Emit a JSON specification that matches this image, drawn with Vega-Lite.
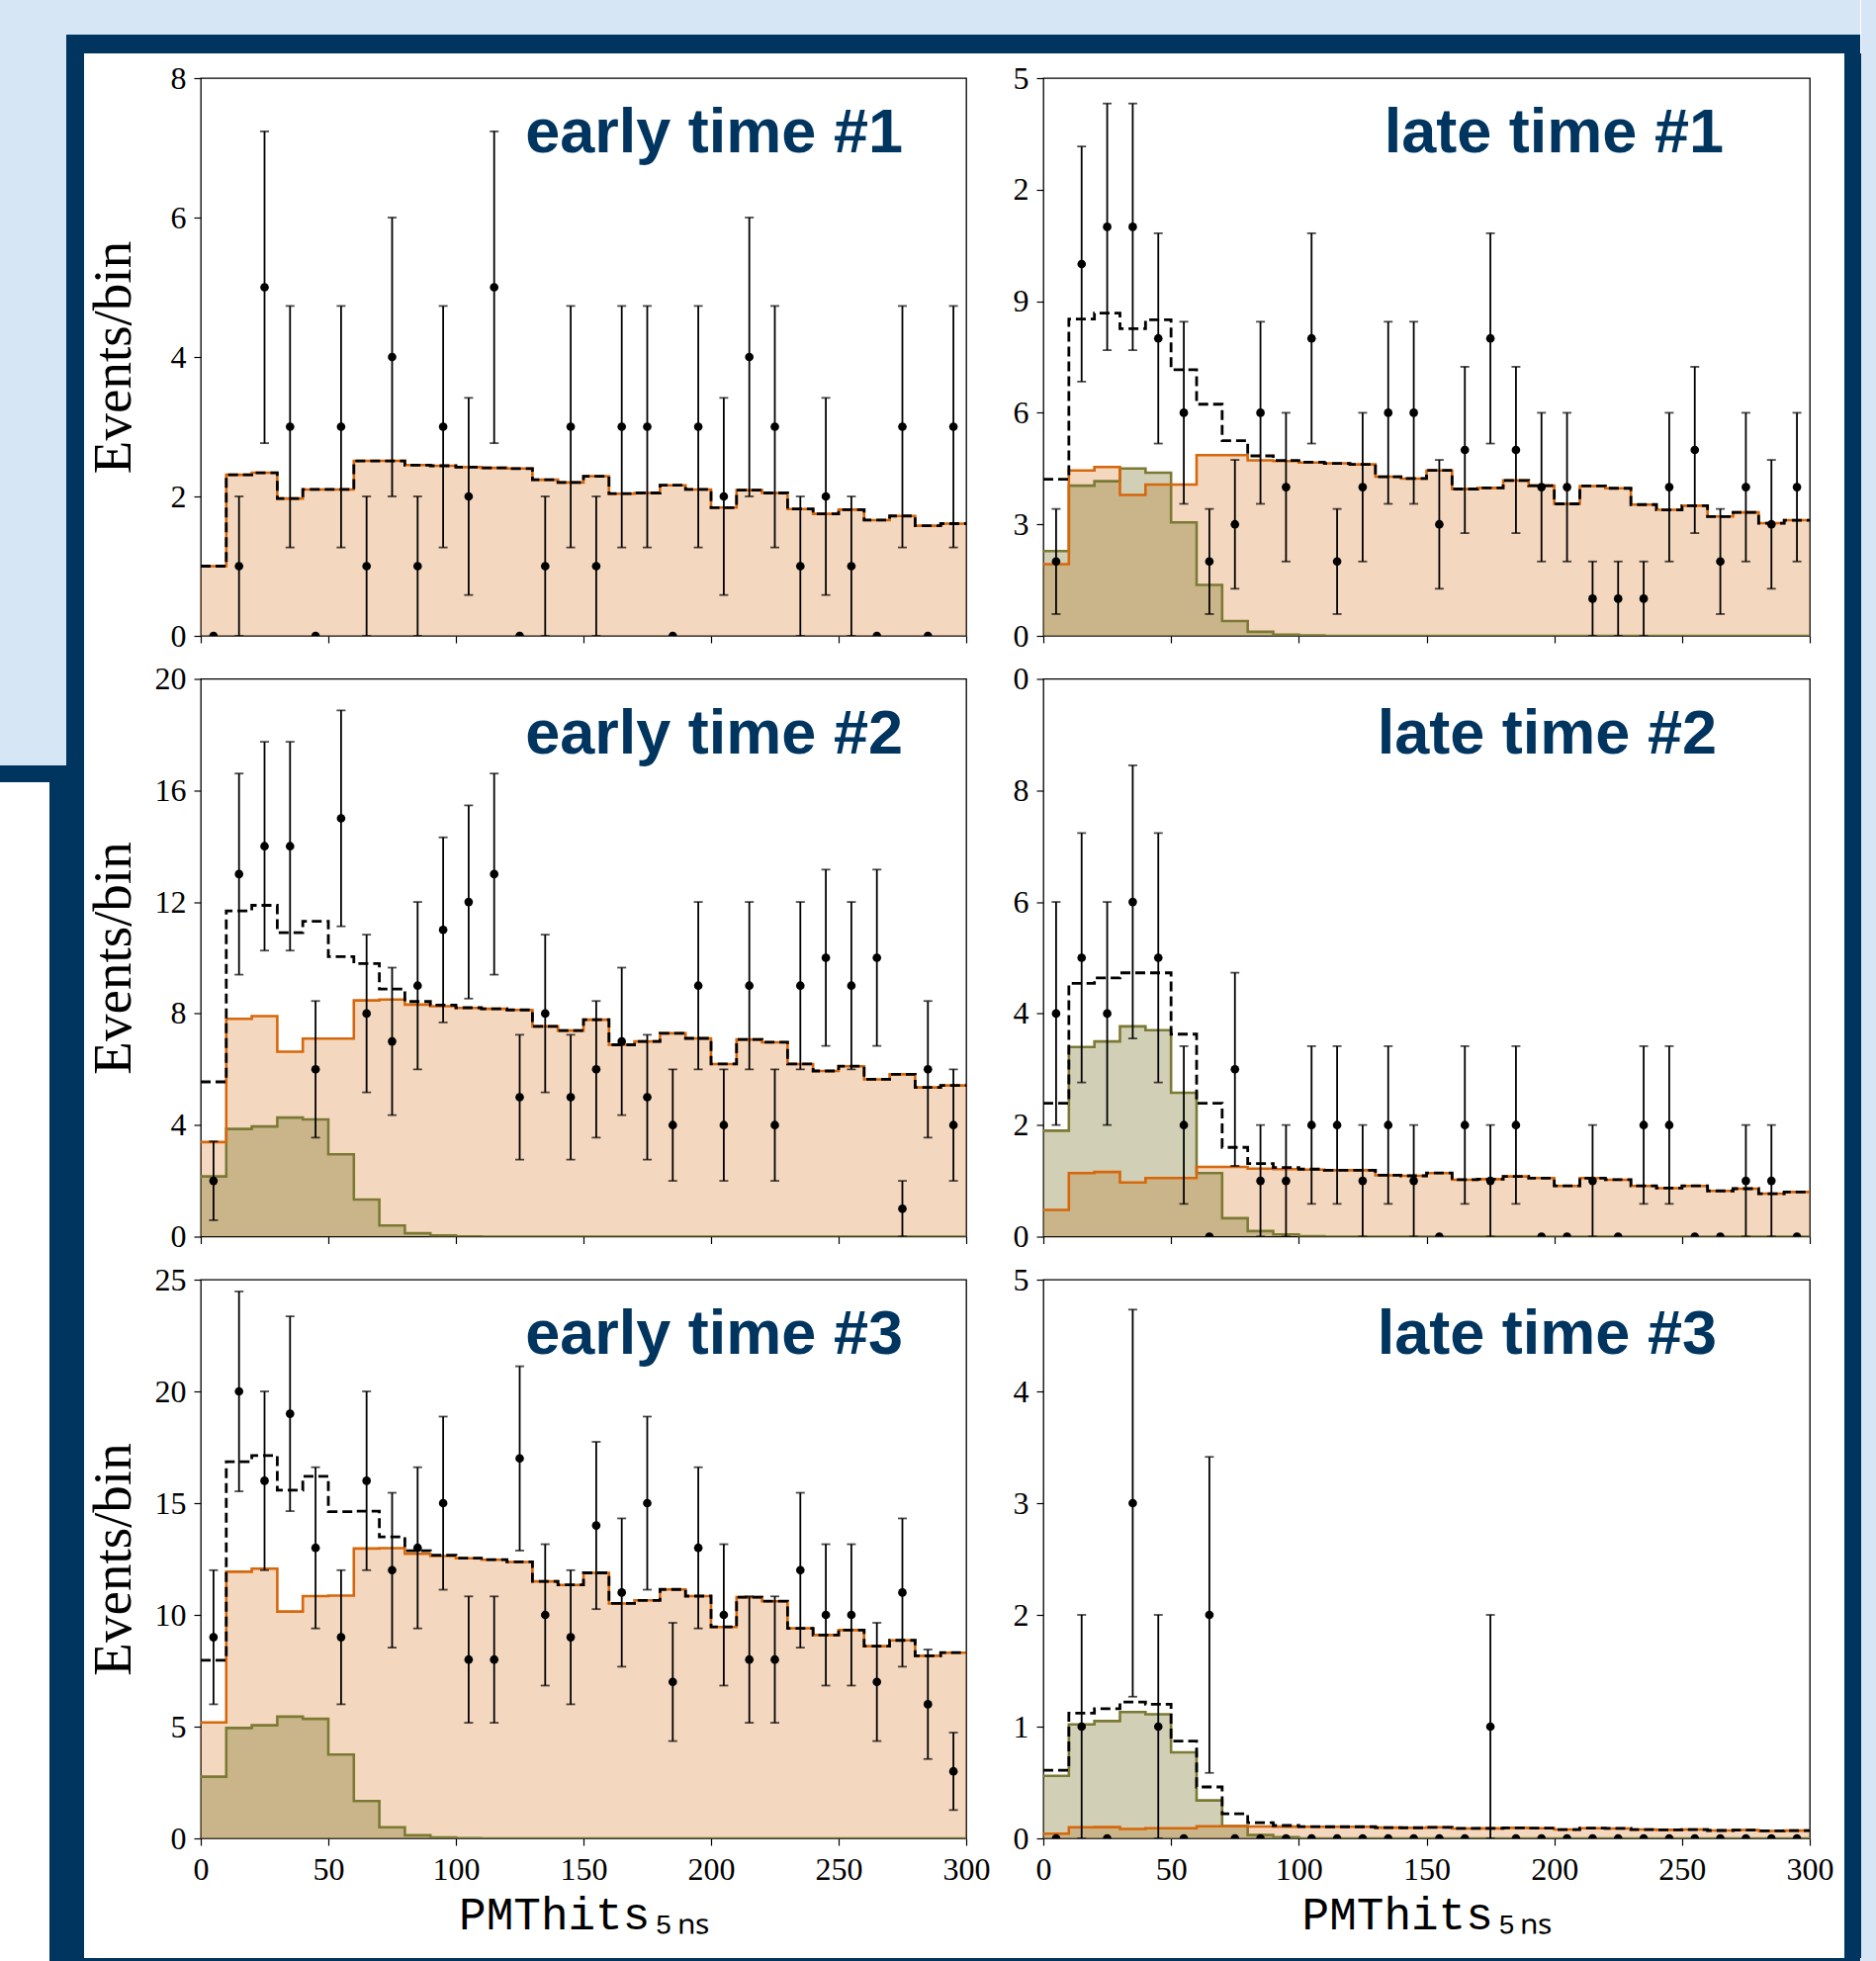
{
"$schema":"https://vega.github.io/schema/vega-lite/v6.json",
"padding":0,
"background":"white",
"spacing":0,
"config":{
 "view":{"stroke":null},
 "axis":{"domain":false,"grid":false,"tickColor":"black","tickWidth":1.2,"tickSize":7,"labelColor":"black","labelFont":"Liberation Serif","labelFontSize":32,"labelPadding":8,"labelFlush":false,"labelOverlap":false,"labelBound":false,"titleColor":"black","titleFont":"Liberation Serif","titleFontSize":55,"titleFontWeight":"normal"},
 "title":{"font":"Liberation Sans","fontSize":63,"fontWeight":"bold","color":"#003560","anchor":"end","frame":"group","baseline":"alphabetic"}
},
"datasets":{
"hist":[
{"p":"e1","x":0,"b":1.0,"t":1.0},{"p":"e1","x":10,"b":2.31,"t":2.31},{"p":"e1","x":20,"b":2.34,"t":2.34},{"p":"e1","x":30,"b":1.97,"t":1.97},{"p":"e1","x":40,"b":2.1,"t":2.1},{"p":"e1","x":50,"b":2.1,"t":2.1},{"p":"e1","x":60,"b":2.51,"t":2.51},{"p":"e1","x":70,"b":2.51,"t":2.51},{"p":"e1","x":80,"b":2.45,"t":2.45},{"p":"e1","x":90,"b":2.44,"t":2.44},{"p":"e1","x":100,"b":2.42,"t":2.42},{"p":"e1","x":110,"b":2.41,"t":2.41},{"p":"e1","x":120,"b":2.4,"t":2.4},{"p":"e1","x":130,"b":2.24,"t":2.24},{"p":"e1","x":140,"b":2.2,"t":2.2},{"p":"e1","x":150,"b":2.29,"t":2.29},{"p":"e1","x":160,"b":2.04,"t":2.04},{"p":"e1","x":170,"b":2.05,"t":2.05},{"p":"e1","x":180,"b":2.16,"t":2.16},{"p":"e1","x":190,"b":2.1,"t":2.1},{"p":"e1","x":200,"b":1.84,"t":1.84},{"p":"e1","x":210,"b":2.09,"t":2.09},{"p":"e1","x":220,"b":2.05,"t":2.05},{"p":"e1","x":230,"b":1.82,"t":1.82},{"p":"e1","x":240,"b":1.75,"t":1.75},{"p":"e1","x":250,"b":1.81,"t":1.81},{"p":"e1","x":260,"b":1.66,"t":1.66},{"p":"e1","x":270,"b":1.72,"t":1.72},{"p":"e1","x":280,"b":1.58,"t":1.58},{"p":"e1","x":290,"b":1.61,"t":1.61},{"p":"e1","x":300,"b":1.61,"t":1.61},
{"p":"e2","x":0,"b":3.39,"s":2.16,"t":5.55},{"p":"e2","x":10,"b":7.81,"s":3.86,"t":11.68},{"p":"e2","x":20,"b":7.91,"s":3.95,"t":11.88},{"p":"e2","x":30,"b":6.63,"s":4.27,"t":10.9},{"p":"e2","x":40,"b":7.1,"s":4.2,"t":11.31},{"p":"e2","x":50,"b":7.1,"s":2.95,"t":10.04},{"p":"e2","x":60,"b":8.47,"s":1.33,"t":9.79},{"p":"e2","x":70,"b":8.5,"s":0.4,"t":8.88},{"p":"e2","x":80,"b":8.32,"s":0.12,"t":8.43},{"p":"e2","x":90,"b":8.26,"s":0.04,"t":8.3},{"p":"e2","x":100,"b":8.2,"s":0.01,"t":8.21},{"p":"e2","x":110,"b":8.17,"s":0,"t":8.17},{"p":"e2","x":120,"b":8.13,"s":0,"t":8.13},{"p":"e2","x":130,"b":7.54,"s":0,"t":7.54},{"p":"e2","x":140,"b":7.39,"s":0,"t":7.39},{"p":"e2","x":150,"b":7.78,"s":0,"t":7.78},{"p":"e2","x":160,"b":6.88,"s":0,"t":6.88},{"p":"e2","x":170,"b":7.0,"s":0,"t":7.0},{"p":"e2","x":180,"b":7.29,"s":0,"t":7.29},{"p":"e2","x":190,"b":7.11,"s":0,"t":7.11},{"p":"e2","x":200,"b":6.19,"s":0,"t":6.19},{"p":"e2","x":210,"b":7.07,"s":0,"t":7.07},{"p":"e2","x":220,"b":6.97,"s":0,"t":6.97},{"p":"e2","x":230,"b":6.19,"s":0,"t":6.19},{"p":"e2","x":240,"b":5.94,"s":0,"t":5.94},{"p":"e2","x":250,"b":6.11,"s":0,"t":6.11},{"p":"e2","x":260,"b":5.64,"s":0,"t":5.64},{"p":"e2","x":270,"b":5.82,"s":0,"t":5.82},{"p":"e2","x":280,"b":5.35,"s":0,"t":5.35},{"p":"e2","x":290,"b":5.42,"s":0,"t":5.42},{"p":"e2","x":300,"b":5.42,"s":0,"t":5.42},
{"p":"e3","x":0,"b":5.19,"s":2.76,"t":7.97},{"p":"e3","x":10,"b":11.93,"s":4.94,"t":16.85},{"p":"e3","x":20,"b":12.07,"s":5.06,"t":17.13},{"p":"e3","x":30,"b":10.15,"s":5.45,"t":15.58},{"p":"e3","x":40,"b":10.84,"s":5.35,"t":16.2},{"p":"e3","x":50,"b":10.86,"s":3.75,"t":14.62},{"p":"e3","x":60,"b":12.97,"s":1.67,"t":14.64},{"p":"e3","x":70,"b":12.99,"s":0.5,"t":13.49},{"p":"e3","x":80,"b":12.73,"s":0.14,"t":12.87},{"p":"e3","x":90,"b":12.63,"s":0.04,"t":12.67},{"p":"e3","x":100,"b":12.53,"s":0.01,"t":12.54},{"p":"e3","x":110,"b":12.47,"s":0,"t":12.47},{"p":"e3","x":120,"b":12.37,"s":0,"t":12.37},{"p":"e3","x":130,"b":11.5,"s":0,"t":11.5},{"p":"e3","x":140,"b":11.34,"s":0,"t":11.34},{"p":"e3","x":150,"b":11.88,"s":0,"t":11.88},{"p":"e3","x":160,"b":10.51,"s":0,"t":10.51},{"p":"e3","x":170,"b":10.65,"s":0,"t":10.65},{"p":"e3","x":180,"b":11.14,"s":0,"t":11.14},{"p":"e3","x":190,"b":10.84,"s":0,"t":10.84},{"p":"e3","x":200,"b":9.46,"s":0,"t":9.46},{"p":"e3","x":210,"b":10.79,"s":0,"t":10.79},{"p":"e3","x":220,"b":10.61,"s":0,"t":10.61},{"p":"e3","x":230,"b":9.4,"s":0,"t":9.4},{"p":"e3","x":240,"b":9.1,"s":0,"t":9.1},{"p":"e3","x":250,"b":9.32,"s":0,"t":9.32},{"p":"e3","x":260,"b":8.6,"s":0,"t":8.6},{"p":"e3","x":270,"b":8.86,"s":0,"t":8.86},{"p":"e3","x":280,"b":8.17,"s":0,"t":8.17},{"p":"e3","x":290,"b":8.31,"s":0,"t":8.31},{"p":"e3","x":300,"b":8.31,"s":0,"t":8.31},
{"p":"l1","x":0,"b":1.93,"s":2.28,"t":4.21},{"p":"l1","x":10,"b":4.45,"s":4.04,"t":8.52},{"p":"l1","x":20,"b":4.54,"s":4.16,"t":8.68},{"p":"l1","x":30,"b":3.79,"s":4.5,"t":8.26},{"p":"l1","x":40,"b":4.07,"s":4.39,"t":8.5},{"p":"l1","x":50,"b":4.07,"s":3.05,"t":7.16},{"p":"l1","x":60,"b":4.86,"s":1.37,"t":6.23},{"p":"l1","x":70,"b":4.86,"s":0.4,"t":5.25},{"p":"l1","x":80,"b":4.72,"s":0.11,"t":4.84},{"p":"l1","x":90,"b":4.7,"s":0.03,"t":4.72},{"p":"l1","x":100,"b":4.66,"s":0.01,"t":4.67},{"p":"l1","x":110,"b":4.64,"s":0,"t":4.64},{"p":"l1","x":120,"b":4.61,"s":0,"t":4.61},{"p":"l1","x":130,"b":4.28,"s":0,"t":4.28},{"p":"l1","x":140,"b":4.23,"s":0,"t":4.23},{"p":"l1","x":150,"b":4.45,"s":0,"t":4.45},{"p":"l1","x":160,"b":3.95,"s":0,"t":3.95},{"p":"l1","x":170,"b":3.98,"s":0,"t":3.98},{"p":"l1","x":180,"b":4.18,"s":0,"t":4.18},{"p":"l1","x":190,"b":4.04,"s":0,"t":4.04},{"p":"l1","x":200,"b":3.55,"s":0,"t":3.55},{"p":"l1","x":210,"b":4.03,"s":0,"t":4.03},{"p":"l1","x":220,"b":3.97,"s":0,"t":3.97},{"p":"l1","x":230,"b":3.53,"s":0,"t":3.53},{"p":"l1","x":240,"b":3.39,"s":0,"t":3.39},{"p":"l1","x":250,"b":3.5,"s":0,"t":3.5},{"p":"l1","x":260,"b":3.21,"s":0,"t":3.21},{"p":"l1","x":270,"b":3.32,"s":0,"t":3.32},{"p":"l1","x":280,"b":3.03,"s":0,"t":3.03},{"p":"l1","x":290,"b":3.11,"s":0,"t":3.11},{"p":"l1","x":300,"b":3.11,"s":0,"t":3.11},
{"p":"l2","x":0,"b":0.48,"s":1.9,"t":2.39},{"p":"l2","x":10,"b":1.14,"s":3.4,"t":4.54},{"p":"l2","x":20,"b":1.16,"s":3.5,"t":4.64},{"p":"l2","x":30,"b":0.97,"s":3.77,"t":4.73},{"p":"l2","x":40,"b":1.05,"s":3.7,"t":4.73},{"p":"l2","x":50,"b":1.05,"s":2.58,"t":3.63},{"p":"l2","x":60,"b":1.25,"s":1.14,"t":2.39},{"p":"l2","x":70,"b":1.25,"s":0.33,"t":1.6},{"p":"l2","x":80,"b":1.22,"s":0.1,"t":1.31},{"p":"l2","x":90,"b":1.21,"s":0.04,"t":1.24},{"p":"l2","x":100,"b":1.2,"s":0.01,"t":1.21},{"p":"l2","x":110,"b":1.19,"s":0,"t":1.19},{"p":"l2","x":120,"b":1.19,"s":0,"t":1.19},{"p":"l2","x":130,"b":1.1,"s":0,"t":1.1},{"p":"l2","x":140,"b":1.09,"s":0,"t":1.09},{"p":"l2","x":150,"b":1.14,"s":0,"t":1.14},{"p":"l2","x":160,"b":1.02,"s":0,"t":1.02},{"p":"l2","x":170,"b":1.03,"s":0,"t":1.03},{"p":"l2","x":180,"b":1.08,"s":0,"t":1.08},{"p":"l2","x":190,"b":1.05,"s":0,"t":1.05},{"p":"l2","x":200,"b":0.91,"s":0,"t":0.91},{"p":"l2","x":210,"b":1.05,"s":0,"t":1.05},{"p":"l2","x":220,"b":1.02,"s":0,"t":1.02},{"p":"l2","x":230,"b":0.91,"s":0,"t":0.91},{"p":"l2","x":240,"b":0.87,"s":0,"t":0.87},{"p":"l2","x":250,"b":0.91,"s":0,"t":0.91},{"p":"l2","x":260,"b":0.82,"s":0,"t":0.82},{"p":"l2","x":270,"b":0.86,"s":0,"t":0.86},{"p":"l2","x":280,"b":0.77,"s":0,"t":0.77},{"p":"l2","x":290,"b":0.8,"s":0,"t":0.8},{"p":"l2","x":300,"b":0.8,"s":0,"t":0.8},
{"p":"l3","x":0,"b":0.042,"s":0.56,"t":0.61},{"p":"l3","x":10,"b":0.099,"s":1.02,"t":1.12},{"p":"l3","x":20,"b":0.101,"s":1.05,"t":1.16},{"p":"l3","x":30,"b":0.084,"s":1.13,"t":1.22},{"p":"l3","x":40,"b":0.091,"s":1.11,"t":1.2},{"p":"l3","x":50,"b":0.091,"s":0.77,"t":0.87},{"p":"l3","x":60,"b":0.109,"s":0.34,"t":0.46},{"p":"l3","x":70,"b":0.109,"s":0.11,"t":0.22},{"p":"l3","x":80,"b":0.106,"s":0.03,"t":0.14},{"p":"l3","x":90,"b":0.105,"s":0.01,"t":0.115},{"p":"l3","x":100,"b":0.104,"s":0,"t":0.105},{"p":"l3","x":110,"b":0.104,"s":0,"t":0.104},{"p":"l3","x":120,"b":0.104,"s":0,"t":0.104},{"p":"l3","x":130,"b":0.096,"s":0,"t":0.096},{"p":"l3","x":140,"b":0.095,"s":0,"t":0.095},{"p":"l3","x":150,"b":0.099,"s":0,"t":0.099},{"p":"l3","x":160,"b":0.089,"s":0,"t":0.089},{"p":"l3","x":170,"b":0.09,"s":0,"t":0.09},{"p":"l3","x":180,"b":0.094,"s":0,"t":0.094},{"p":"l3","x":190,"b":0.091,"s":0,"t":0.091},{"p":"l3","x":200,"b":0.079,"s":0,"t":0.079},{"p":"l3","x":210,"b":0.091,"s":0,"t":0.091},{"p":"l3","x":220,"b":0.089,"s":0,"t":0.089},{"p":"l3","x":230,"b":0.079,"s":0,"t":0.079},{"p":"l3","x":240,"b":0.076,"s":0,"t":0.076},{"p":"l3","x":250,"b":0.079,"s":0,"t":0.079},{"p":"l3","x":260,"b":0.071,"s":0,"t":0.071},{"p":"l3","x":270,"b":0.075,"s":0,"t":0.075},{"p":"l3","x":280,"b":0.067,"s":0,"t":0.067},{"p":"l3","x":290,"b":0.07,"s":0,"t":0.07},{"p":"l3","x":300,"b":0.07,"s":0,"t":0.07}
],
"obs":[
{"p":"e1","x":5,"n":0,"lo":0,"hi":0},{"p":"e1","x":15,"n":1,"lo":0,"hi":2},{"p":"e1","x":25,"n":5,"lo":2.764,"hi":7.236},{"p":"e1","x":35,"n":3,"lo":1.268,"hi":4.732},{"p":"e1","x":45,"n":0,"lo":0,"hi":0},{"p":"e1","x":55,"n":3,"lo":1.268,"hi":4.732},{"p":"e1","x":65,"n":1,"lo":0,"hi":2},{"p":"e1","x":75,"n":4,"lo":2,"hi":6},{"p":"e1","x":85,"n":1,"lo":0,"hi":2},{"p":"e1","x":95,"n":3,"lo":1.268,"hi":4.732},{"p":"e1","x":105,"n":2,"lo":0.586,"hi":3.414},{"p":"e1","x":115,"n":5,"lo":2.764,"hi":7.236},{"p":"e1","x":125,"n":0,"lo":0,"hi":0},{"p":"e1","x":135,"n":1,"lo":0,"hi":2},{"p":"e1","x":145,"n":3,"lo":1.268,"hi":4.732},{"p":"e1","x":155,"n":1,"lo":0,"hi":2},{"p":"e1","x":165,"n":3,"lo":1.268,"hi":4.732},{"p":"e1","x":175,"n":3,"lo":1.268,"hi":4.732},{"p":"e1","x":185,"n":0,"lo":0,"hi":0},{"p":"e1","x":195,"n":3,"lo":1.268,"hi":4.732},{"p":"e1","x":205,"n":2,"lo":0.586,"hi":3.414},{"p":"e1","x":215,"n":4,"lo":2,"hi":6},{"p":"e1","x":225,"n":3,"lo":1.268,"hi":4.732},{"p":"e1","x":235,"n":1,"lo":0,"hi":2},{"p":"e1","x":245,"n":2,"lo":0.586,"hi":3.414},{"p":"e1","x":255,"n":1,"lo":0,"hi":2},{"p":"e1","x":265,"n":0,"lo":0,"hi":0},{"p":"e1","x":275,"n":3,"lo":1.268,"hi":4.732},{"p":"e1","x":285,"n":0,"lo":0,"hi":0},{"p":"e1","x":295,"n":3,"lo":1.268,"hi":4.732},
{"p":"e2","x":5,"n":2,"lo":0.586,"hi":3.414},{"p":"e2","x":15,"n":13,"lo":9.394,"hi":16.606},{"p":"e2","x":25,"n":14,"lo":10.258,"hi":17.742},{"p":"e2","x":35,"n":14,"lo":10.258,"hi":17.742},{"p":"e2","x":45,"n":6,"lo":3.551,"hi":8.449},{"p":"e2","x":55,"n":15,"lo":11.127,"hi":18.873},{"p":"e2","x":65,"n":8,"lo":5.172,"hi":10.828},{"p":"e2","x":75,"n":7,"lo":4.354,"hi":9.646},{"p":"e2","x":85,"n":9,"lo":6,"hi":12},{"p":"e2","x":95,"n":11,"lo":7.683,"hi":14.317},{"p":"e2","x":105,"n":12,"lo":8.536,"hi":15.464},{"p":"e2","x":115,"n":13,"lo":9.394,"hi":16.606},{"p":"e2","x":125,"n":5,"lo":2.764,"hi":7.236},{"p":"e2","x":135,"n":8,"lo":5.172,"hi":10.828},{"p":"e2","x":145,"n":5,"lo":2.764,"hi":7.236},{"p":"e2","x":155,"n":6,"lo":3.551,"hi":8.449},{"p":"e2","x":165,"n":7,"lo":4.354,"hi":9.646},{"p":"e2","x":175,"n":5,"lo":2.764,"hi":7.236},{"p":"e2","x":185,"n":4,"lo":2,"hi":6},{"p":"e2","x":195,"n":9,"lo":6,"hi":12},{"p":"e2","x":205,"n":4,"lo":2,"hi":6},{"p":"e2","x":215,"n":9,"lo":6,"hi":12},{"p":"e2","x":225,"n":4,"lo":2,"hi":6},{"p":"e2","x":235,"n":9,"lo":6,"hi":12},{"p":"e2","x":245,"n":10,"lo":6.838,"hi":13.162},{"p":"e2","x":255,"n":9,"lo":6,"hi":12},{"p":"e2","x":265,"n":10,"lo":6.838,"hi":13.162},{"p":"e2","x":275,"n":1,"lo":0,"hi":2},{"p":"e2","x":285,"n":6,"lo":3.551,"hi":8.449},{"p":"e2","x":295,"n":4,"lo":2,"hi":6},
{"p":"e3","x":5,"n":9,"lo":6,"hi":12},{"p":"e3","x":15,"n":20,"lo":15.528,"hi":24.472},{"p":"e3","x":25,"n":16,"lo":12,"hi":20},{"p":"e3","x":35,"n":19,"lo":14.641,"hi":23.359},{"p":"e3","x":45,"n":13,"lo":9.394,"hi":16.606},{"p":"e3","x":55,"n":9,"lo":6,"hi":12},{"p":"e3","x":65,"n":16,"lo":12,"hi":20},{"p":"e3","x":75,"n":12,"lo":8.536,"hi":15.464},{"p":"e3","x":85,"n":13,"lo":9.394,"hi":16.606},{"p":"e3","x":95,"n":15,"lo":11.127,"hi":18.873},{"p":"e3","x":105,"n":8,"lo":5.172,"hi":10.828},{"p":"e3","x":115,"n":8,"lo":5.172,"hi":10.828},{"p":"e3","x":125,"n":17,"lo":12.877,"hi":21.123},{"p":"e3","x":135,"n":10,"lo":6.838,"hi":13.162},{"p":"e3","x":145,"n":9,"lo":6,"hi":12},{"p":"e3","x":155,"n":14,"lo":10.258,"hi":17.742},{"p":"e3","x":165,"n":11,"lo":7.683,"hi":14.317},{"p":"e3","x":175,"n":15,"lo":11.127,"hi":18.873},{"p":"e3","x":185,"n":7,"lo":4.354,"hi":9.646},{"p":"e3","x":195,"n":13,"lo":9.394,"hi":16.606},{"p":"e3","x":205,"n":10,"lo":6.838,"hi":13.162},{"p":"e3","x":215,"n":8,"lo":5.172,"hi":10.828},{"p":"e3","x":225,"n":8,"lo":5.172,"hi":10.828},{"p":"e3","x":235,"n":12,"lo":8.536,"hi":15.464},{"p":"e3","x":245,"n":10,"lo":6.838,"hi":13.162},{"p":"e3","x":255,"n":10,"lo":6.838,"hi":13.162},{"p":"e3","x":265,"n":7,"lo":4.354,"hi":9.646},{"p":"e3","x":275,"n":11,"lo":7.683,"hi":14.317},{"p":"e3","x":285,"n":6,"lo":3.551,"hi":8.449},{"p":"e3","x":295,"n":3,"lo":1.268,"hi":4.732},
{"p":"l1","x":5,"n":2,"lo":0.586,"hi":3.414},{"p":"l1","x":15,"n":10,"lo":6.838,"hi":13.162},{"p":"l1","x":25,"n":11,"lo":7.683,"hi":14.317},{"p":"l1","x":35,"n":11,"lo":7.683,"hi":14.317},{"p":"l1","x":45,"n":8,"lo":5.172,"hi":10.828},{"p":"l1","x":55,"n":6,"lo":3.551,"hi":8.449},{"p":"l1","x":65,"n":2,"lo":0.586,"hi":3.414},{"p":"l1","x":75,"n":3,"lo":1.268,"hi":4.732},{"p":"l1","x":85,"n":6,"lo":3.551,"hi":8.449},{"p":"l1","x":95,"n":4,"lo":2,"hi":6},{"p":"l1","x":105,"n":8,"lo":5.172,"hi":10.828},{"p":"l1","x":115,"n":2,"lo":0.586,"hi":3.414},{"p":"l1","x":125,"n":4,"lo":2,"hi":6},{"p":"l1","x":135,"n":6,"lo":3.551,"hi":8.449},{"p":"l1","x":145,"n":6,"lo":3.551,"hi":8.449},{"p":"l1","x":155,"n":3,"lo":1.268,"hi":4.732},{"p":"l1","x":165,"n":5,"lo":2.764,"hi":7.236},{"p":"l1","x":175,"n":8,"lo":5.172,"hi":10.828},{"p":"l1","x":185,"n":5,"lo":2.764,"hi":7.236},{"p":"l1","x":195,"n":4,"lo":2,"hi":6},{"p":"l1","x":205,"n":4,"lo":2,"hi":6},{"p":"l1","x":215,"n":1,"lo":0,"hi":2},{"p":"l1","x":225,"n":1,"lo":0,"hi":2},{"p":"l1","x":235,"n":1,"lo":0,"hi":2},{"p":"l1","x":245,"n":4,"lo":2,"hi":6},{"p":"l1","x":255,"n":5,"lo":2.764,"hi":7.236},{"p":"l1","x":265,"n":2,"lo":0.586,"hi":3.414},{"p":"l1","x":275,"n":4,"lo":2,"hi":6},{"p":"l1","x":285,"n":3,"lo":1.268,"hi":4.732},{"p":"l1","x":295,"n":4,"lo":2,"hi":6},
{"p":"l2","x":5,"n":4,"lo":2,"hi":6},{"p":"l2","x":15,"n":5,"lo":2.764,"hi":7.236},{"p":"l2","x":25,"n":4,"lo":2,"hi":6},{"p":"l2","x":35,"n":6,"lo":3.551,"hi":8.449},{"p":"l2","x":45,"n":5,"lo":2.764,"hi":7.236},{"p":"l2","x":55,"n":2,"lo":0.586,"hi":3.414},{"p":"l2","x":65,"n":0,"lo":0,"hi":0},{"p":"l2","x":75,"n":3,"lo":1.268,"hi":4.732},{"p":"l2","x":85,"n":1,"lo":0,"hi":2},{"p":"l2","x":95,"n":1,"lo":0,"hi":2},{"p":"l2","x":105,"n":2,"lo":0.586,"hi":3.414},{"p":"l2","x":115,"n":2,"lo":0.586,"hi":3.414},{"p":"l2","x":125,"n":1,"lo":0,"hi":2},{"p":"l2","x":135,"n":2,"lo":0.586,"hi":3.414},{"p":"l2","x":145,"n":1,"lo":0,"hi":2},{"p":"l2","x":155,"n":0,"lo":0,"hi":0},{"p":"l2","x":165,"n":2,"lo":0.586,"hi":3.414},{"p":"l2","x":175,"n":1,"lo":0,"hi":2},{"p":"l2","x":185,"n":2,"lo":0.586,"hi":3.414},{"p":"l2","x":195,"n":0,"lo":0,"hi":0},{"p":"l2","x":205,"n":0,"lo":0,"hi":0},{"p":"l2","x":215,"n":1,"lo":0,"hi":2},{"p":"l2","x":225,"n":0,"lo":0,"hi":0},{"p":"l2","x":235,"n":2,"lo":0.586,"hi":3.414},{"p":"l2","x":245,"n":2,"lo":0.586,"hi":3.414},{"p":"l2","x":255,"n":0,"lo":0,"hi":0},{"p":"l2","x":265,"n":0,"lo":0,"hi":0},{"p":"l2","x":275,"n":1,"lo":0,"hi":2},{"p":"l2","x":285,"n":1,"lo":0,"hi":2},{"p":"l2","x":295,"n":0,"lo":0,"hi":0},
{"p":"l3","x":5,"n":0,"lo":0,"hi":0},{"p":"l3","x":15,"n":1,"lo":0,"hi":2},{"p":"l3","x":25,"n":0,"lo":0,"hi":0},{"p":"l3","x":35,"n":3,"lo":1.268,"hi":4.732},{"p":"l3","x":45,"n":1,"lo":0,"hi":2},{"p":"l3","x":55,"n":0,"lo":0,"hi":0},{"p":"l3","x":65,"n":2,"lo":0.586,"hi":3.414},{"p":"l3","x":75,"n":0,"lo":0,"hi":0},{"p":"l3","x":85,"n":0,"lo":0,"hi":0},{"p":"l3","x":95,"n":0,"lo":0,"hi":0},{"p":"l3","x":105,"n":0,"lo":0,"hi":0},{"p":"l3","x":115,"n":0,"lo":0,"hi":0},{"p":"l3","x":125,"n":0,"lo":0,"hi":0},{"p":"l3","x":135,"n":0,"lo":0,"hi":0},{"p":"l3","x":145,"n":0,"lo":0,"hi":0},{"p":"l3","x":155,"n":0,"lo":0,"hi":0},{"p":"l3","x":165,"n":0,"lo":0,"hi":0},{"p":"l3","x":175,"n":1,"lo":0,"hi":2},{"p":"l3","x":185,"n":0,"lo":0,"hi":0},{"p":"l3","x":195,"n":0,"lo":0,"hi":0},{"p":"l3","x":205,"n":0,"lo":0,"hi":0},{"p":"l3","x":215,"n":0,"lo":0,"hi":0},{"p":"l3","x":225,"n":0,"lo":0,"hi":0},{"p":"l3","x":235,"n":0,"lo":0,"hi":0},{"p":"l3","x":245,"n":0,"lo":0,"hi":0},{"p":"l3","x":255,"n":0,"lo":0,"hi":0},{"p":"l3","x":265,"n":0,"lo":0,"hi":0},{"p":"l3","x":275,"n":0,"lo":0,"hi":0},{"p":"l3","x":285,"n":0,"lo":0,"hi":0},{"p":"l3","x":295,"n":0,"lo":0,"hi":0}
]
},
"hconcat":[
 {"spacing":0,"vconcat":[
   {"width":67,"height":774,"view":{"fill":"#d6e6f5","stroke":null},"data":{"values":[]},"mark":{"type":"point","opacity":0},"encoding":{}},
   {"width":67,"height":17,"view":{"fill":"#003560","stroke":null},"data":{"values":[]},"mark":{"type":"point","opacity":0},"encoding":{}},
   {"spacing":0,"hconcat":[
     {"width":50,"height":1192,"view":{"stroke":null},"data":{"values":[]},"mark":{"type":"point","opacity":0},"encoding":{}},
     {"width":17,"height":1192,"view":{"fill":"#003560","stroke":null},"data":{"values":[]},"mark":{"type":"point","opacity":0},"encoding":{}}
   ]}
 ]},
 {"spacing":0,"vconcat":[
   {"width":1814,"height":35,"view":{"fill":"#d6e6f5","stroke":null},"data":{"values":[]},"mark":{"type":"point","opacity":0},"encoding":{}},
   {"width":1814,"height":19,"view":{"fill":"#003560","stroke":null},"data":{"values":[]},"mark":{"type":"point","opacity":0},"encoding":{}},
   {"spacing":0,"hconcat":[
     {"width":18,"height":1926,"view":{"fill":"#003560","stroke":null},"data":{"values":[]},"mark":{"type":"point","opacity":0},"encoding":{}},
     {"width":1,"height":1926,"view":{"stroke":null},"data":{"values":[]},"mark":{"type":"point","opacity":0},"encoding":{}},
     {"spacing":0,"vconcat":[
       {"width":1,"height":8,"view":{"stroke":null},"data":{"values":[]},"mark":{"type":"point","opacity":0},"encoding":{}},
       {"columns":2,"spacing":{"row":9.5,"column":20},"concat":[
{"width":774,"height":564,"view":{"stroke":"black","strokeWidth":1.3},
 "title":{"text":"early time #1","offset":-104,"dx":-64},
 "encoding":{"x":{"field":"x","type":"quantitative","scale":{"domain":[0,300],"nice":false,"zero":false},"axis":{"values":[0,50,100,150,200,250,300],"labels":false,"title":null}}},
 "layer":[
  {"data":{"name":"hist"},"transform":[{"filter":"datum.p=='e1'"}],"mark":{"type":"area","interpolate":"step-after","color":"#d55e00","opacity":0.25,"clip":true},"encoding":{"y":{"field":"b","type":"quantitative","scale":{"domain":[0,8],"nice":false},"axis":{"values":[0,2,4,6,8],"title":"Events/bin","titlePadding":12,"minExtent":48,"maxExtent":48}}}},
  {"data":{"name":"hist"},"transform":[{"filter":"datum.p=='e1'"}],"mark":{"type":"line","interpolate":"step-after","color":"#d6670b","strokeWidth":2.6,"clip":true},"encoding":{"y":{"field":"b","type":"quantitative","scale":{"domain":[0,8],"nice":false},"axis":{"values":[0,2,4,6,8],"title":"Events/bin","titlePadding":12,"minExtent":48,"maxExtent":48}}}},
  {"data":{"name":"hist"},"transform":[{"filter":"datum.p=='e1'"}],"mark":{"type":"line","interpolate":"step-after","color":"black","strokeWidth":2.8,"strokeDash":[10,5],"clip":true},"encoding":{"y":{"field":"t","type":"quantitative","scale":{"domain":[0,8],"nice":false},"axis":{"values":[0,2,4,6,8],"title":"Events/bin","titlePadding":12,"minExtent":48,"maxExtent":48}}}},
  {"data":{"name":"obs"},"transform":[{"filter":"datum.p=='e1' && datum.n>0"}],"mark":{"type":"rule","color":"black","strokeWidth":1.8,"clip":true},"encoding":{"y":{"field":"lo","type":"quantitative","scale":{"domain":[0,8],"nice":false},"axis":{"values":[0,2,4,6,8],"title":"Events/bin","titlePadding":12,"minExtent":48,"maxExtent":48}},"y2":{"field":"hi"}}},
  {"data":{"name":"obs"},"transform":[{"filter":"datum.p=='e1' && datum.n>0"}],"mark":{"type":"tick","orient":"horizontal","color":"black","size":9,"thickness":1.8,"clip":true},"encoding":{"y":{"field":"hi","type":"quantitative","scale":{"domain":[0,8],"nice":false},"axis":{"values":[0,2,4,6,8],"title":"Events/bin","titlePadding":12,"minExtent":48,"maxExtent":48}}}},
  {"data":{"name":"obs"},"transform":[{"filter":"datum.p=='e1' && datum.n>0"}],"mark":{"type":"tick","orient":"horizontal","color":"black","size":9,"thickness":1.8,"clip":true},"encoding":{"y":{"field":"lo","type":"quantitative","scale":{"domain":[0,8],"nice":false},"axis":{"values":[0,2,4,6,8],"title":"Events/bin","titlePadding":12,"minExtent":48,"maxExtent":48}}}},
  {"data":{"name":"obs"},"transform":[{"filter":"datum.p=='e1'"}],"mark":{"type":"point","filled":true,"color":"black","size":75,"opacity":1,"clip":true},"encoding":{"y":{"field":"n","type":"quantitative","scale":{"domain":[0,8],"nice":false},"axis":{"values":[0,2,4,6,8],"title":"Events/bin","titlePadding":12,"minExtent":48,"maxExtent":48}}}}
 ]},
{"width":775,"height":564,"view":{"stroke":"black","strokeWidth":1.3},
 "title":{"text":"late time #1","offset":-104,"dx":-87},
 "encoding":{"x":{"field":"x","type":"quantitative","scale":{"domain":[0,300],"nice":false,"zero":false},"axis":{"values":[0,50,100,150,200,250,300],"labels":false,"title":null}}},
 "layer":[
  {"data":{"name":"hist"},"transform":[{"filter":"datum.p=='l1'"}],"mark":{"type":"area","interpolate":"step-after","color":"#d55e00","opacity":0.25,"clip":true},"encoding":{"y":{"field":"b","type":"quantitative","scale":{"domain":[0,15],"nice":false},"axis":{"values":[0,3,6,9,12,15],"title":null,"minExtent":32,"maxExtent":32,"labelExpr":"datum.value >= 10 ? slice(datum.label, 1) : datum.label"}}}},
  {"data":{"name":"hist"},"transform":[{"filter":"datum.p=='l1'"}],"mark":{"type":"area","interpolate":"step-after","color":"#7c762c","opacity":0.35,"clip":true},"encoding":{"y":{"field":"s","type":"quantitative","scale":{"domain":[0,15],"nice":false},"axis":{"values":[0,3,6,9,12,15],"title":null,"minExtent":32,"maxExtent":32,"labelExpr":"datum.value >= 10 ? slice(datum.label, 1) : datum.label"}}}},
  {"data":{"name":"hist"},"transform":[{"filter":"datum.p=='l1'"}],"mark":{"type":"line","interpolate":"step-after","color":"#7b7a34","strokeWidth":2.6,"clip":true},"encoding":{"y":{"field":"s","type":"quantitative","scale":{"domain":[0,15],"nice":false},"axis":{"values":[0,3,6,9,12,15],"title":null,"minExtent":32,"maxExtent":32,"labelExpr":"datum.value >= 10 ? slice(datum.label, 1) : datum.label"}}}},
  {"data":{"name":"hist"},"transform":[{"filter":"datum.p=='l1'"}],"mark":{"type":"line","interpolate":"step-after","color":"#d6670b","strokeWidth":2.6,"clip":true},"encoding":{"y":{"field":"b","type":"quantitative","scale":{"domain":[0,15],"nice":false},"axis":{"values":[0,3,6,9,12,15],"title":null,"minExtent":32,"maxExtent":32,"labelExpr":"datum.value >= 10 ? slice(datum.label, 1) : datum.label"}}}},
  {"data":{"name":"hist"},"transform":[{"filter":"datum.p=='l1'"}],"mark":{"type":"line","interpolate":"step-after","color":"black","strokeWidth":2.8,"strokeDash":[10,5],"clip":true},"encoding":{"y":{"field":"t","type":"quantitative","scale":{"domain":[0,15],"nice":false},"axis":{"values":[0,3,6,9,12,15],"title":null,"minExtent":32,"maxExtent":32,"labelExpr":"datum.value >= 10 ? slice(datum.label, 1) : datum.label"}}}},
  {"data":{"name":"obs"},"transform":[{"filter":"datum.p=='l1' && datum.n>0"}],"mark":{"type":"rule","color":"black","strokeWidth":1.8,"clip":true},"encoding":{"y":{"field":"lo","type":"quantitative","scale":{"domain":[0,15],"nice":false},"axis":{"values":[0,3,6,9,12,15],"title":null,"minExtent":32,"maxExtent":32,"labelExpr":"datum.value >= 10 ? slice(datum.label, 1) : datum.label"}},"y2":{"field":"hi"}}},
  {"data":{"name":"obs"},"transform":[{"filter":"datum.p=='l1' && datum.n>0"}],"mark":{"type":"tick","orient":"horizontal","color":"black","size":9,"thickness":1.8,"clip":true},"encoding":{"y":{"field":"hi","type":"quantitative","scale":{"domain":[0,15],"nice":false},"axis":{"values":[0,3,6,9,12,15],"title":null,"minExtent":32,"maxExtent":32,"labelExpr":"datum.value >= 10 ? slice(datum.label, 1) : datum.label"}}}},
  {"data":{"name":"obs"},"transform":[{"filter":"datum.p=='l1' && datum.n>0"}],"mark":{"type":"tick","orient":"horizontal","color":"black","size":9,"thickness":1.8,"clip":true},"encoding":{"y":{"field":"lo","type":"quantitative","scale":{"domain":[0,15],"nice":false},"axis":{"values":[0,3,6,9,12,15],"title":null,"minExtent":32,"maxExtent":32,"labelExpr":"datum.value >= 10 ? slice(datum.label, 1) : datum.label"}}}},
  {"data":{"name":"obs"},"transform":[{"filter":"datum.p=='l1'"}],"mark":{"type":"point","filled":true,"color":"black","size":75,"opacity":1,"clip":true},"encoding":{"y":{"field":"n","type":"quantitative","scale":{"domain":[0,15],"nice":false},"axis":{"values":[0,3,6,9,12,15],"title":null,"minExtent":32,"maxExtent":32,"labelExpr":"datum.value >= 10 ? slice(datum.label, 1) : datum.label"}}}}
 ]},
{"width":774,"height":564,"view":{"stroke":"black","strokeWidth":1.3},
 "title":{"text":"early time #2","offset":-104,"dx":-64},
 "encoding":{"x":{"field":"x","type":"quantitative","scale":{"domain":[0,300],"nice":false,"zero":false},"axis":{"values":[0,50,100,150,200,250,300],"labels":false,"title":null}}},
 "layer":[
  {"data":{"name":"hist"},"transform":[{"filter":"datum.p=='e2'"}],"mark":{"type":"area","interpolate":"step-after","color":"#d55e00","opacity":0.25,"clip":true},"encoding":{"y":{"field":"b","type":"quantitative","scale":{"domain":[0,20],"nice":false},"axis":{"values":[0,4,8,12,16,20],"title":"Events/bin","titlePadding":12,"minExtent":48,"maxExtent":48}}}},
  {"data":{"name":"hist"},"transform":[{"filter":"datum.p=='e2'"}],"mark":{"type":"area","interpolate":"step-after","color":"#7c762c","opacity":0.35,"clip":true},"encoding":{"y":{"field":"s","type":"quantitative","scale":{"domain":[0,20],"nice":false},"axis":{"values":[0,4,8,12,16,20],"title":"Events/bin","titlePadding":12,"minExtent":48,"maxExtent":48}}}},
  {"data":{"name":"hist"},"transform":[{"filter":"datum.p=='e2'"}],"mark":{"type":"line","interpolate":"step-after","color":"#7b7a34","strokeWidth":2.6,"clip":true},"encoding":{"y":{"field":"s","type":"quantitative","scale":{"domain":[0,20],"nice":false},"axis":{"values":[0,4,8,12,16,20],"title":"Events/bin","titlePadding":12,"minExtent":48,"maxExtent":48}}}},
  {"data":{"name":"hist"},"transform":[{"filter":"datum.p=='e2'"}],"mark":{"type":"line","interpolate":"step-after","color":"#d6670b","strokeWidth":2.6,"clip":true},"encoding":{"y":{"field":"b","type":"quantitative","scale":{"domain":[0,20],"nice":false},"axis":{"values":[0,4,8,12,16,20],"title":"Events/bin","titlePadding":12,"minExtent":48,"maxExtent":48}}}},
  {"data":{"name":"hist"},"transform":[{"filter":"datum.p=='e2'"}],"mark":{"type":"line","interpolate":"step-after","color":"black","strokeWidth":2.8,"strokeDash":[10,5],"clip":true},"encoding":{"y":{"field":"t","type":"quantitative","scale":{"domain":[0,20],"nice":false},"axis":{"values":[0,4,8,12,16,20],"title":"Events/bin","titlePadding":12,"minExtent":48,"maxExtent":48}}}},
  {"data":{"name":"obs"},"transform":[{"filter":"datum.p=='e2' && datum.n>0"}],"mark":{"type":"rule","color":"black","strokeWidth":1.8,"clip":true},"encoding":{"y":{"field":"lo","type":"quantitative","scale":{"domain":[0,20],"nice":false},"axis":{"values":[0,4,8,12,16,20],"title":"Events/bin","titlePadding":12,"minExtent":48,"maxExtent":48}},"y2":{"field":"hi"}}},
  {"data":{"name":"obs"},"transform":[{"filter":"datum.p=='e2' && datum.n>0"}],"mark":{"type":"tick","orient":"horizontal","color":"black","size":9,"thickness":1.8,"clip":true},"encoding":{"y":{"field":"hi","type":"quantitative","scale":{"domain":[0,20],"nice":false},"axis":{"values":[0,4,8,12,16,20],"title":"Events/bin","titlePadding":12,"minExtent":48,"maxExtent":48}}}},
  {"data":{"name":"obs"},"transform":[{"filter":"datum.p=='e2' && datum.n>0"}],"mark":{"type":"tick","orient":"horizontal","color":"black","size":9,"thickness":1.8,"clip":true},"encoding":{"y":{"field":"lo","type":"quantitative","scale":{"domain":[0,20],"nice":false},"axis":{"values":[0,4,8,12,16,20],"title":"Events/bin","titlePadding":12,"minExtent":48,"maxExtent":48}}}},
  {"data":{"name":"obs"},"transform":[{"filter":"datum.p=='e2'"}],"mark":{"type":"point","filled":true,"color":"black","size":75,"opacity":1,"clip":true},"encoding":{"y":{"field":"n","type":"quantitative","scale":{"domain":[0,20],"nice":false},"axis":{"values":[0,4,8,12,16,20],"title":"Events/bin","titlePadding":12,"minExtent":48,"maxExtent":48}}}}
 ]},
{"width":775,"height":564,"view":{"stroke":"black","strokeWidth":1.3},
 "title":{"text":"late time #2","offset":-104,"dx":-94},
 "encoding":{"x":{"field":"x","type":"quantitative","scale":{"domain":[0,300],"nice":false,"zero":false},"axis":{"values":[0,50,100,150,200,250,300],"labels":false,"title":null}}},
 "layer":[
  {"data":{"name":"hist"},"transform":[{"filter":"datum.p=='l2'"}],"mark":{"type":"area","interpolate":"step-after","color":"#d55e00","opacity":0.25,"clip":true},"encoding":{"y":{"field":"b","type":"quantitative","scale":{"domain":[0,10],"nice":false},"axis":{"values":[0,2,4,6,8,10],"title":null,"minExtent":32,"maxExtent":32,"labelExpr":"datum.value >= 10 ? slice(datum.label, 1) : datum.label"}}}},
  {"data":{"name":"hist"},"transform":[{"filter":"datum.p=='l2'"}],"mark":{"type":"area","interpolate":"step-after","color":"#7c762c","opacity":0.35,"clip":true},"encoding":{"y":{"field":"s","type":"quantitative","scale":{"domain":[0,10],"nice":false},"axis":{"values":[0,2,4,6,8,10],"title":null,"minExtent":32,"maxExtent":32,"labelExpr":"datum.value >= 10 ? slice(datum.label, 1) : datum.label"}}}},
  {"data":{"name":"hist"},"transform":[{"filter":"datum.p=='l2'"}],"mark":{"type":"line","interpolate":"step-after","color":"#7b7a34","strokeWidth":2.6,"clip":true},"encoding":{"y":{"field":"s","type":"quantitative","scale":{"domain":[0,10],"nice":false},"axis":{"values":[0,2,4,6,8,10],"title":null,"minExtent":32,"maxExtent":32,"labelExpr":"datum.value >= 10 ? slice(datum.label, 1) : datum.label"}}}},
  {"data":{"name":"hist"},"transform":[{"filter":"datum.p=='l2'"}],"mark":{"type":"line","interpolate":"step-after","color":"#d6670b","strokeWidth":2.6,"clip":true},"encoding":{"y":{"field":"b","type":"quantitative","scale":{"domain":[0,10],"nice":false},"axis":{"values":[0,2,4,6,8,10],"title":null,"minExtent":32,"maxExtent":32,"labelExpr":"datum.value >= 10 ? slice(datum.label, 1) : datum.label"}}}},
  {"data":{"name":"hist"},"transform":[{"filter":"datum.p=='l2'"}],"mark":{"type":"line","interpolate":"step-after","color":"black","strokeWidth":2.8,"strokeDash":[10,5],"clip":true},"encoding":{"y":{"field":"t","type":"quantitative","scale":{"domain":[0,10],"nice":false},"axis":{"values":[0,2,4,6,8,10],"title":null,"minExtent":32,"maxExtent":32,"labelExpr":"datum.value >= 10 ? slice(datum.label, 1) : datum.label"}}}},
  {"data":{"name":"obs"},"transform":[{"filter":"datum.p=='l2' && datum.n>0"}],"mark":{"type":"rule","color":"black","strokeWidth":1.8,"clip":true},"encoding":{"y":{"field":"lo","type":"quantitative","scale":{"domain":[0,10],"nice":false},"axis":{"values":[0,2,4,6,8,10],"title":null,"minExtent":32,"maxExtent":32,"labelExpr":"datum.value >= 10 ? slice(datum.label, 1) : datum.label"}},"y2":{"field":"hi"}}},
  {"data":{"name":"obs"},"transform":[{"filter":"datum.p=='l2' && datum.n>0"}],"mark":{"type":"tick","orient":"horizontal","color":"black","size":9,"thickness":1.8,"clip":true},"encoding":{"y":{"field":"hi","type":"quantitative","scale":{"domain":[0,10],"nice":false},"axis":{"values":[0,2,4,6,8,10],"title":null,"minExtent":32,"maxExtent":32,"labelExpr":"datum.value >= 10 ? slice(datum.label, 1) : datum.label"}}}},
  {"data":{"name":"obs"},"transform":[{"filter":"datum.p=='l2' && datum.n>0"}],"mark":{"type":"tick","orient":"horizontal","color":"black","size":9,"thickness":1.8,"clip":true},"encoding":{"y":{"field":"lo","type":"quantitative","scale":{"domain":[0,10],"nice":false},"axis":{"values":[0,2,4,6,8,10],"title":null,"minExtent":32,"maxExtent":32,"labelExpr":"datum.value >= 10 ? slice(datum.label, 1) : datum.label"}}}},
  {"data":{"name":"obs"},"transform":[{"filter":"datum.p=='l2'"}],"mark":{"type":"point","filled":true,"color":"black","size":75,"opacity":1,"clip":true},"encoding":{"y":{"field":"n","type":"quantitative","scale":{"domain":[0,10],"nice":false},"axis":{"values":[0,2,4,6,8,10],"title":null,"minExtent":32,"maxExtent":32,"labelExpr":"datum.value >= 10 ? slice(datum.label, 1) : datum.label"}}}}
 ]},
{"width":774,"height":565,"view":{"stroke":"black","strokeWidth":1.3},
 "title":{"text":"early time #3","offset":-104,"dx":-64},
 "encoding":{"x":{"field":"x","type":"quantitative","scale":{"domain":[0,300],"nice":false,"zero":false},"axis":{"values":[0,50,100,150,200,250,300],"title":"PMThits₅ₙₛ","titleFont":"Liberation Mono","titleFontSize":46,"titlePadding":8,"labelPadding":9}}},
 "layer":[
  {"data":{"name":"hist"},"transform":[{"filter":"datum.p=='e3'"}],"mark":{"type":"area","interpolate":"step-after","color":"#d55e00","opacity":0.25,"clip":true},"encoding":{"y":{"field":"b","type":"quantitative","scale":{"domain":[0,25],"nice":false},"axis":{"values":[0,5,10,15,20,25],"title":"Events/bin","titlePadding":12,"minExtent":48,"maxExtent":48}}}},
  {"data":{"name":"hist"},"transform":[{"filter":"datum.p=='e3'"}],"mark":{"type":"area","interpolate":"step-after","color":"#7c762c","opacity":0.35,"clip":true},"encoding":{"y":{"field":"s","type":"quantitative","scale":{"domain":[0,25],"nice":false},"axis":{"values":[0,5,10,15,20,25],"title":"Events/bin","titlePadding":12,"minExtent":48,"maxExtent":48}}}},
  {"data":{"name":"hist"},"transform":[{"filter":"datum.p=='e3'"}],"mark":{"type":"line","interpolate":"step-after","color":"#7b7a34","strokeWidth":2.6,"clip":true},"encoding":{"y":{"field":"s","type":"quantitative","scale":{"domain":[0,25],"nice":false},"axis":{"values":[0,5,10,15,20,25],"title":"Events/bin","titlePadding":12,"minExtent":48,"maxExtent":48}}}},
  {"data":{"name":"hist"},"transform":[{"filter":"datum.p=='e3'"}],"mark":{"type":"line","interpolate":"step-after","color":"#d6670b","strokeWidth":2.6,"clip":true},"encoding":{"y":{"field":"b","type":"quantitative","scale":{"domain":[0,25],"nice":false},"axis":{"values":[0,5,10,15,20,25],"title":"Events/bin","titlePadding":12,"minExtent":48,"maxExtent":48}}}},
  {"data":{"name":"hist"},"transform":[{"filter":"datum.p=='e3'"}],"mark":{"type":"line","interpolate":"step-after","color":"black","strokeWidth":2.8,"strokeDash":[10,5],"clip":true},"encoding":{"y":{"field":"t","type":"quantitative","scale":{"domain":[0,25],"nice":false},"axis":{"values":[0,5,10,15,20,25],"title":"Events/bin","titlePadding":12,"minExtent":48,"maxExtent":48}}}},
  {"data":{"name":"obs"},"transform":[{"filter":"datum.p=='e3' && datum.n>0"}],"mark":{"type":"rule","color":"black","strokeWidth":1.8,"clip":true},"encoding":{"y":{"field":"lo","type":"quantitative","scale":{"domain":[0,25],"nice":false},"axis":{"values":[0,5,10,15,20,25],"title":"Events/bin","titlePadding":12,"minExtent":48,"maxExtent":48}},"y2":{"field":"hi"}}},
  {"data":{"name":"obs"},"transform":[{"filter":"datum.p=='e3' && datum.n>0"}],"mark":{"type":"tick","orient":"horizontal","color":"black","size":9,"thickness":1.8,"clip":true},"encoding":{"y":{"field":"hi","type":"quantitative","scale":{"domain":[0,25],"nice":false},"axis":{"values":[0,5,10,15,20,25],"title":"Events/bin","titlePadding":12,"minExtent":48,"maxExtent":48}}}},
  {"data":{"name":"obs"},"transform":[{"filter":"datum.p=='e3' && datum.n>0"}],"mark":{"type":"tick","orient":"horizontal","color":"black","size":9,"thickness":1.8,"clip":true},"encoding":{"y":{"field":"lo","type":"quantitative","scale":{"domain":[0,25],"nice":false},"axis":{"values":[0,5,10,15,20,25],"title":"Events/bin","titlePadding":12,"minExtent":48,"maxExtent":48}}}},
  {"data":{"name":"obs"},"transform":[{"filter":"datum.p=='e3'"}],"mark":{"type":"point","filled":true,"color":"black","size":75,"opacity":1,"clip":true},"encoding":{"y":{"field":"n","type":"quantitative","scale":{"domain":[0,25],"nice":false},"axis":{"values":[0,5,10,15,20,25],"title":"Events/bin","titlePadding":12,"minExtent":48,"maxExtent":48}}}}
 ]},
{"width":775,"height":565,"view":{"stroke":"black","strokeWidth":1.3},
 "title":{"text":"late time #3","offset":-104,"dx":-94},
 "encoding":{"x":{"field":"x","type":"quantitative","scale":{"domain":[0,300],"nice":false,"zero":false},"axis":{"values":[0,50,100,150,200,250,300],"title":"PMThits₅ₙₛ","titleFont":"Liberation Mono","titleFontSize":46,"titlePadding":8,"labelPadding":9}}},
 "layer":[
  {"data":{"name":"hist"},"transform":[{"filter":"datum.p=='l3'"}],"mark":{"type":"area","interpolate":"step-after","color":"#d55e00","opacity":0.25,"clip":true},"encoding":{"y":{"field":"b","type":"quantitative","scale":{"domain":[0,5],"nice":false},"axis":{"values":[0,1,2,3,4,5],"title":null,"minExtent":32,"maxExtent":32}}}},
  {"data":{"name":"hist"},"transform":[{"filter":"datum.p=='l3'"}],"mark":{"type":"area","interpolate":"step-after","color":"#7c762c","opacity":0.35,"clip":true},"encoding":{"y":{"field":"s","type":"quantitative","scale":{"domain":[0,5],"nice":false},"axis":{"values":[0,1,2,3,4,5],"title":null,"minExtent":32,"maxExtent":32}}}},
  {"data":{"name":"hist"},"transform":[{"filter":"datum.p=='l3'"}],"mark":{"type":"line","interpolate":"step-after","color":"#7b7a34","strokeWidth":2.6,"clip":true},"encoding":{"y":{"field":"s","type":"quantitative","scale":{"domain":[0,5],"nice":false},"axis":{"values":[0,1,2,3,4,5],"title":null,"minExtent":32,"maxExtent":32}}}},
  {"data":{"name":"hist"},"transform":[{"filter":"datum.p=='l3'"}],"mark":{"type":"line","interpolate":"step-after","color":"#d6670b","strokeWidth":2.6,"clip":true},"encoding":{"y":{"field":"b","type":"quantitative","scale":{"domain":[0,5],"nice":false},"axis":{"values":[0,1,2,3,4,5],"title":null,"minExtent":32,"maxExtent":32}}}},
  {"data":{"name":"hist"},"transform":[{"filter":"datum.p=='l3'"}],"mark":{"type":"line","interpolate":"step-after","color":"black","strokeWidth":2.8,"strokeDash":[10,5],"clip":true},"encoding":{"y":{"field":"t","type":"quantitative","scale":{"domain":[0,5],"nice":false},"axis":{"values":[0,1,2,3,4,5],"title":null,"minExtent":32,"maxExtent":32}}}},
  {"data":{"name":"obs"},"transform":[{"filter":"datum.p=='l3' && datum.n>0"}],"mark":{"type":"rule","color":"black","strokeWidth":1.8,"clip":true},"encoding":{"y":{"field":"lo","type":"quantitative","scale":{"domain":[0,5],"nice":false},"axis":{"values":[0,1,2,3,4,5],"title":null,"minExtent":32,"maxExtent":32}},"y2":{"field":"hi"}}},
  {"data":{"name":"obs"},"transform":[{"filter":"datum.p=='l3' && datum.n>0"}],"mark":{"type":"tick","orient":"horizontal","color":"black","size":9,"thickness":1.8,"clip":true},"encoding":{"y":{"field":"hi","type":"quantitative","scale":{"domain":[0,5],"nice":false},"axis":{"values":[0,1,2,3,4,5],"title":null,"minExtent":32,"maxExtent":32}}}},
  {"data":{"name":"obs"},"transform":[{"filter":"datum.p=='l3' && datum.n>0"}],"mark":{"type":"tick","orient":"horizontal","color":"black","size":9,"thickness":1.8,"clip":true},"encoding":{"y":{"field":"lo","type":"quantitative","scale":{"domain":[0,5],"nice":false},"axis":{"values":[0,1,2,3,4,5],"title":null,"minExtent":32,"maxExtent":32}}}},
  {"data":{"name":"obs"},"transform":[{"filter":"datum.p=='l3'"}],"mark":{"type":"point","filled":true,"color":"black","size":75,"opacity":1,"clip":true},"encoding":{"y":{"field":"n","type":"quantitative","scale":{"domain":[0,5],"nice":false},"axis":{"values":[0,1,2,3,4,5],"title":null,"minExtent":32,"maxExtent":32}}}}
 ]}
       ]}
     ]},
     {"width":10,"height":1926,"view":{"stroke":null},"data":{"values":[]},"mark":{"type":"point","opacity":0},"encoding":{}},
     {"width":17,"height":1926,"view":{"fill":"#003560","stroke":null},"data":{"values":[]},"mark":{"type":"point","opacity":0},"encoding":{}}
   ]},
   {"width":1814,"height":3,"view":{"fill":"#003560","stroke":null},"data":{"values":[]},"mark":{"type":"point","opacity":0},"encoding":{}}
 ]},
 {"width":16,"height":1983,"view":{"fill":"#d6e6f5","stroke":null},"data":{"values":[]},"mark":{"type":"point","opacity":0},"encoding":{}}
]
}
